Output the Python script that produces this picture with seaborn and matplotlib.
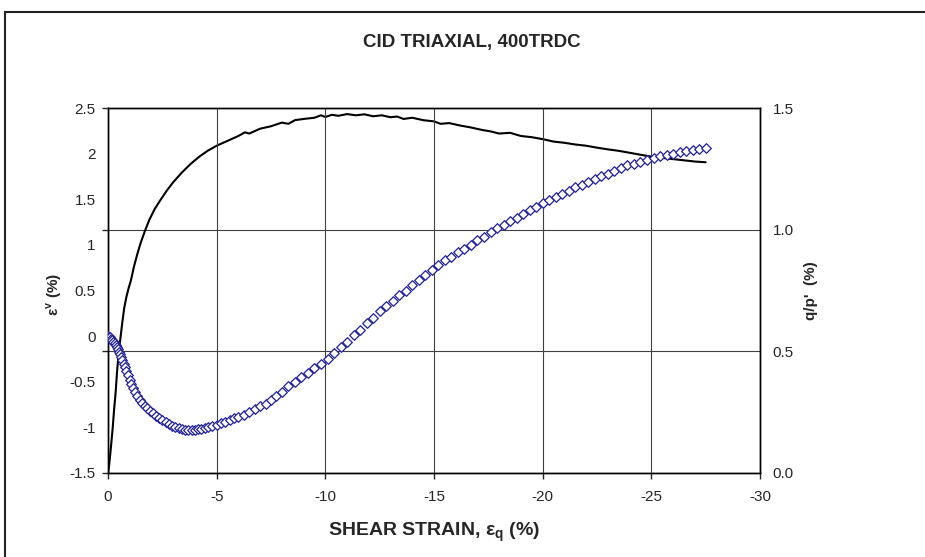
import matplotlib
matplotlib.use("Agg")
import matplotlib.pyplot as plt
from matplotlib.patches import Rectangle
import seaborn as sns

# volumetric strain (left axis) - blue diamonds
shear_v = [0.0, -0.05, -0.10, -0.15, -0.20, -0.25, -0.30, -0.35, -0.40, -0.45,
           -0.50, -0.55, -0.60, -0.66, -0.72, -0.78, -0.85, -0.92, -1.00, -1.08,
           -1.16, -1.25, -1.35, -1.45, -1.56, -1.68, -1.80, -1.93, -2.06, -2.20,
           -2.35, -2.50, -2.65, -2.80, -2.95, -3.10, -3.25, -3.40, -3.55, -3.70,
           -3.85, -4.00, -4.15, -4.30, -4.45, -4.60, -4.80, -5.00, -5.20, -5.40,
           -5.60, -5.80, -6.00, -6.25, -6.50, -6.75, -7.00, -7.25, -7.50, -7.75,
           -8.00, -8.3, -8.6, -8.9, -9.2, -9.5, -9.8, -10.1, -10.4, -10.7,
           -11.0, -11.3, -11.6, -11.9, -12.2, -12.5, -12.8, -13.1, -13.4, -13.7,
           -14.0, -14.3, -14.6, -14.9, -15.2, -15.5, -15.8, -16.1, -16.4, -16.7,
           -17.0, -17.3, -17.6, -17.9, -18.2, -18.5, -18.8, -19.1, -19.4, -19.7,
           -20.0, -20.3, -20.6, -20.9, -21.2, -21.5, -21.8, -22.1, -22.4, -22.7,
           -23.0, -23.3, -23.6, -23.9, -24.2, -24.5, -24.8, -25.1, -25.4, -25.7,
           -26.0, -26.3, -26.6, -26.9, -27.2, -27.5]
eps_v = [0.00, -0.005, -0.015, -0.03, -0.045, -0.06, -0.08, -0.10, -0.12, -0.145,
         -0.17, -0.20, -0.23, -0.26, -0.30, -0.34, -0.38, -0.43, -0.48, -0.53,
         -0.57, -0.61, -0.66, -0.70, -0.73, -0.765, -0.79, -0.82, -0.845, -0.87,
         -0.895, -0.92, -0.945, -0.965, -0.98, -0.995, -1.01, -1.02, -1.025, -1.03,
         -1.03, -1.025, -1.02, -1.015, -1.005, -0.995, -0.985, -0.97, -0.955, -0.94,
         -0.92, -0.90, -0.885, -0.86, -0.83, -0.80, -0.77, -0.74, -0.70, -0.66,
         -0.61, -0.55, -0.50, -0.45, -0.40, -0.35, -0.30, -0.25, -0.19, -0.12,
         -0.06, 0.01, 0.07, 0.14, 0.20, 0.27, 0.33, 0.39, 0.45, 0.50,
         0.56, 0.62, 0.67, 0.73, 0.78, 0.83, 0.87, 0.92, 0.96, 1.00,
         1.05, 1.09, 1.14, 1.18, 1.22, 1.26, 1.30, 1.34, 1.38, 1.42,
         1.46, 1.49, 1.53, 1.56, 1.59, 1.63, 1.66, 1.69, 1.72, 1.75,
         1.78, 1.81, 1.84, 1.87, 1.89, 1.91, 1.93, 1.95, 1.97, 1.985,
         2.00, 2.015, 2.03, 2.04, 2.05, 2.06]

# stress ratio q/p' (right axis) - black line
shear_q = [0.0, -0.05, -0.10, -0.16, -0.22, -0.28, -0.35, -0.42, -0.50, -0.58,
           -0.66, -0.75, -0.85, -0.95, -1.05, -1.2, -1.35, -1.5, -1.7, -1.9,
           -2.15, -2.4, -2.7, -3.0, -3.4, -3.8, -4.2, -4.6, -5.0, -5.5,
           -6.0, -6.3, -6.5, -7.0, -7.5, -8.0, -8.3, -8.6, -9.0, -9.5,
           -9.8, -10.0, -10.3, -10.6, -11.0, -11.4, -11.8, -12.2, -12.6, -13.0,
           -13.3, -13.6, -14.0, -14.5, -15.0, -15.3, -15.7, -16.2, -16.7, -17.2,
           -17.6, -18.0, -18.5, -19.0, -19.5, -20.0, -20.5, -21.0, -21.5, -22.0,
           -22.5, -23.0, -23.5, -24.0, -24.5, -25.0, -25.5, -26.0, -26.5, -27.0,
           -27.5]
qp_ratio = [0.00, 0.03, 0.075, 0.13, 0.19, 0.26, 0.33, 0.42, 0.50, 0.56,
            0.62, 0.68, 0.725, 0.76, 0.79, 0.85, 0.90, 0.945, 0.995, 1.04,
            1.085, 1.12, 1.16, 1.195, 1.235, 1.27, 1.30, 1.325, 1.345, 1.365,
            1.385, 1.40, 1.395, 1.415, 1.425, 1.44, 1.435, 1.45, 1.455, 1.46,
            1.47, 1.463, 1.472, 1.468, 1.475, 1.47, 1.474, 1.466, 1.47, 1.462,
            1.465, 1.455, 1.46, 1.45, 1.445, 1.435, 1.438, 1.428, 1.42, 1.41,
            1.404, 1.395, 1.398, 1.385, 1.38, 1.372, 1.362, 1.357, 1.35, 1.345,
            1.337, 1.33, 1.324, 1.316, 1.308, 1.30, 1.295, 1.29, 1.285, 1.28,
            1.277]

x_ticks = [0, -5, -10, -15, -20, -25, -30]
left_ticks = [-1.5, -1, -0.5, 0, 0.5, 1, 1.5, 2, 2.5]
left_labels = ["-1.5", "-1", "-0.5", "0", "0.5", "1", "1.5", "2", "2.5"]
right_ticks = [0.0, 0.5, 1.0, 1.5]
right_labels = ["0.0", "0.5", "1.0", "1.5"]

sns.set_style("white")
plt.rcParams["font.family"] = ["Liberation Sans", "DejaVu Sans"]
plt.rcParams["mathtext.fontset"] = "custom"
plt.rcParams["mathtext.rm"] = "Liberation Sans"
plt.rcParams["mathtext.bf"] = "Liberation Sans:bold"

fig = plt.figure(figsize=(9.25, 5.57), dpi=100)
ax = fig.add_axes([108 / 925, 1 - 473 / 557, 652 / 925, 365 / 557])
ax2 = ax.twinx()
ax.set_zorder(ax2.get_zorder() + 1)
ax.patch.set_visible(False)

# black line on secondary axis
sns.lineplot(x=shear_q, y=qp_ratio, ax=ax2, color="black", lw=1.5, sort=False)
# diamonds on primary axis
sns.scatterplot(x=shear_v, y=eps_v, ax=ax, marker="D", s=24, color="white",
                edgecolor="#20209a", linewidth=0.9, zorder=3)

ax.set_xlim(0, -30)
ax.set_ylim(-1.5, 2.5)
ax2.set_ylim(0, 1.5)
ax.set_xticks(x_ticks)
ax.set_xticklabels([str(t) for t in x_ticks])
ax.set_yticks(left_ticks)
ax.set_yticklabels(left_labels)
ax2.set_yticks(right_ticks)
ax2.set_yticklabels(right_labels)

ax.tick_params(axis="x", direction="out", length=4, width=1, pad=8, labelsize=11, bottom=True)
ax.tick_params(axis="y", length=0, pad=9, labelsize=11)
ax2.tick_params(axis="y", left=True, right=False, labelleft=False, labelright=True,
                direction="out", length=4, width=1, pad=5, labelsize=11)

# gridlines
ax.grid(axis="x", color="#404040", lw=0.8)
ax.grid(axis="y", visible=False)
ax2.grid(axis="y", color="#404040", lw=0.8)
ax2.grid(axis="x", visible=False)

for a in (ax, ax2):
    for s in a.spines.values():
        s.set_visible(True)
        s.set_color("black")
        s.set_linewidth(1.0)

ax.set_xlabel("SHEAR STRAIN, ε$_\\mathbf{q}$ (%)", fontsize=14, fontweight="bold")
ax.xaxis.label.set_va("center")
ax.xaxis.set_label_coords(0.5, -0.163)
ax.set_ylabel("ε$^\\mathbf{v}$ (%)", fontsize=11, fontweight="bold")
ax.yaxis.label.set_va("center")
ax.yaxis.set_label_coords(-0.083, 0.488)
ax2.set_ylabel("q/p'  (%)", fontsize=11, fontweight="bold")
ax2.yaxis.label.set_va("center")
ax2.yaxis.set_label_coords(1.078, 0.499)

fig.text(472 / 925, 1 - 42 / 557, "CID TRIAXIAL, 400TRDC", ha="center", va="center",
         fontsize=13.5, fontweight="bold")

# chart frame
fig.patches.append(Rectangle((5 / 925, -0.05), 1.0, 1 - 12 / 557 + 0.05,
                             transform=fig.transFigure, fill=False,
                             ec="#222222", lw=1.5))

fig.savefig("out.png", dpi=100)
